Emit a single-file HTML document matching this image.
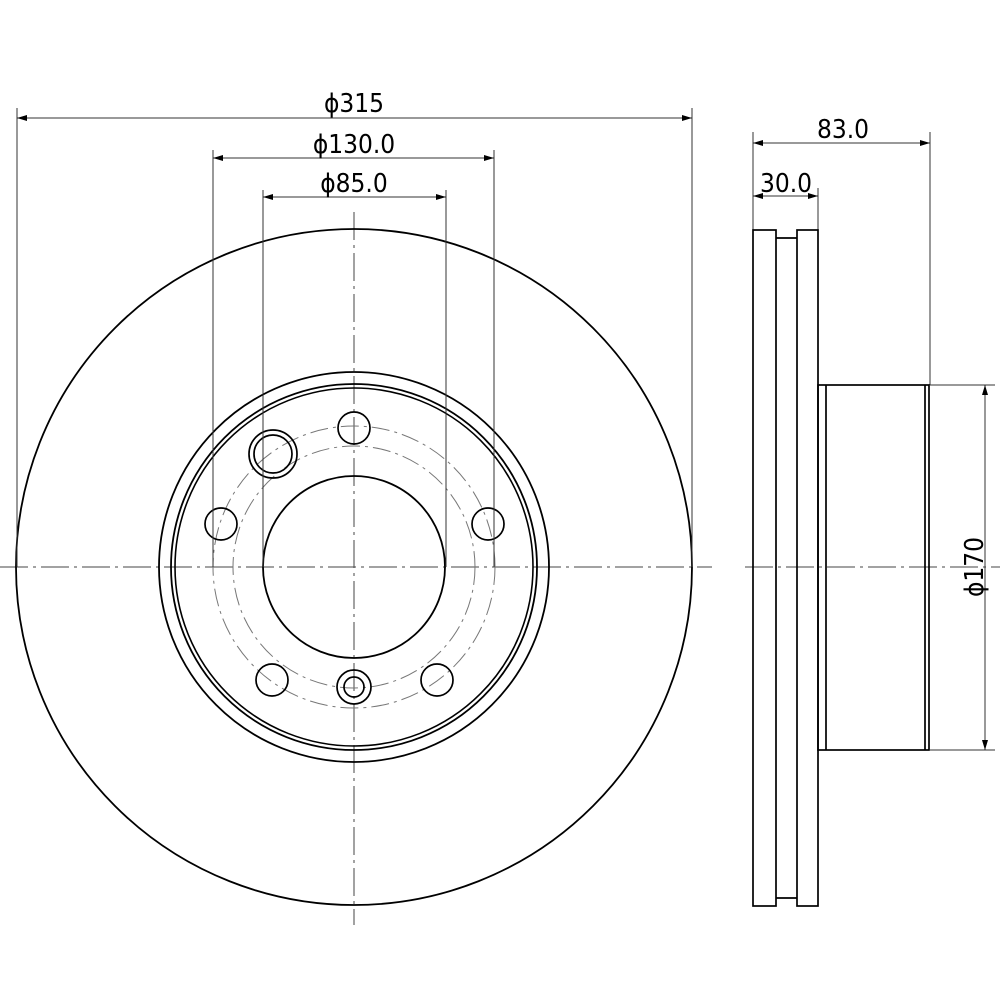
<!DOCTYPE html>
<html><head><style>html,body{margin:0;padding:0;background:#fff}svg{display:block}</style></head>
<body>
<svg width="1000" height="1000" viewBox="0 0 1000 1000" xmlns="http://www.w3.org/2000/svg" font-family="'DejaVu Sans Condensed','Liberation Sans Narrow','Liberation Sans',sans-serif">
<defs>
<marker id="a" viewBox="0 0 10 6" refX="10" refY="3" markerWidth="14" markerHeight="6" markerUnits="userSpaceOnUse" orient="auto-start-reverse"><path d="M0,0 L10,3 L0,6z" fill="#000"/></marker>
</defs>
<g fill="none" stroke="#000">
<g stroke-width="1" stroke-dasharray="28,5,3,5" stroke="#444">
<line x1="0" y1="567" x2="712" y2="567"/>
<line x1="745" y1="567" x2="1000" y2="567"/>
<line x1="354" y1="212" x2="354" y2="925"/>
</g>
<circle cx="354" cy="567" r="338" stroke-width="1.8"/>
<circle cx="354" cy="567" r="195" stroke-width="1.8"/>
<circle cx="354" cy="567" r="183" stroke-width="1.8"/>
<circle cx="354" cy="567" r="179" stroke-width="1.6"/>
<circle cx="354" cy="567" r="91" stroke-width="1.8"/>
<g stroke="#777" stroke-width="1" stroke-dasharray="18,5,3,5">
<circle cx="354" cy="567" r="141"/>
<circle cx="354" cy="567" r="121"/>
</g>
<g stroke-width="1.7">
<circle cx="354" cy="428" r="16"/>
<circle cx="221" cy="524" r="16"/>
<circle cx="488" cy="524" r="16"/>
<circle cx="272" cy="680" r="16"/>
<circle cx="437" cy="680" r="16"/>
<circle cx="354" cy="687" r="17"/>
<circle cx="354" cy="687" r="10"/>
<circle cx="273" cy="454" r="24"/>
<circle cx="273" cy="454" r="19"/>
</g>
<g stroke="#333" stroke-width="1">
<line x1="17" y1="108" x2="17" y2="567"/>
<line x1="692" y1="108" x2="692" y2="567"/>
<line x1="213" y1="150" x2="213" y2="567"/>
<line x1="494" y1="150" x2="494" y2="567"/>
<line x1="263" y1="190" x2="263" y2="567"/>
<line x1="446" y1="190" x2="446" y2="567"/>
<line x1="753" y1="132" x2="753" y2="230"/>
<line x1="818" y1="188" x2="818" y2="230"/>
<line x1="930" y1="132" x2="930" y2="385"/>
<line x1="930" y1="385" x2="995" y2="385"/>
<line x1="930" y1="750" x2="995" y2="750"/>
</g>
<g stroke="#333" stroke-width="1" marker-start="url(#a)" marker-end="url(#a)">
<line x1="17" y1="118" x2="692" y2="118"/>
<line x1="213" y1="158" x2="494" y2="158"/>
<line x1="263" y1="197" x2="446" y2="197"/>
<line x1="753" y1="143" x2="930" y2="143"/>
<line x1="753" y1="196" x2="818" y2="196"/>
<line x1="985" y1="385" x2="985" y2="750"/>
</g>
<g stroke-width="1.7">
<rect x="753" y="230" width="23" height="676"/>
<rect x="797" y="230" width="21" height="676"/>
<line x1="776" y1="238" x2="797" y2="238"/>
<line x1="776" y1="898" x2="797" y2="898"/>
<rect x="818" y="385" width="111" height="365"/>
<line x1="826" y1="385" x2="826" y2="750"/>
<line x1="925" y1="385" x2="925" y2="750"/>
</g>
</g>
<g font-size="26" fill="#000" text-anchor="middle">
<text x="354" y="112">ϕ315</text>
<text x="354" y="153">ϕ130.0</text>
<text x="354" y="192">ϕ85.0</text>
<text x="843" y="138">83.0</text>
<text x="786" y="192">30.0</text>
<text transform="translate(983,567) rotate(-90)">ϕ170</text>
</g>
</svg>
</body></html>
